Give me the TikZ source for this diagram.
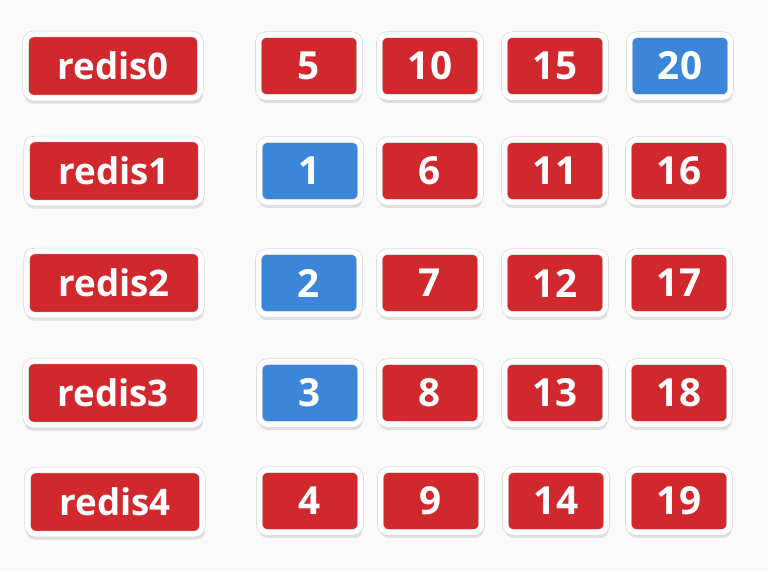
\documentclass[tikz,border=0pt]{standalone}
\usepackage{fontspec}
\setmainfont{Open Sans}
\usetikzlibrary{shadows}
\definecolor{boxred}{RGB}{208,40,45}
\definecolor{boxblue}{RGB}{60,134,218}
\definecolor{pagebg}{RGB}{250,250,250}
\begin{document}
\begin{tikzpicture}[x=0.75pt,y=-0.75pt,
  slot/.style={rectangle,rounded corners=6pt,draw=black!15,line width=0.5pt,double=white,double distance=3.8pt,
    drop shadow={opacity=0.22,shadow xshift=0.6pt,shadow yshift=-3.6pt,shadow scale=1.02},text=white,inner sep=0pt},
  server/.style={slot,fill=boxred,minimum width=131pt,minimum height=48pt,font=\bfseries\fontsize{27.5}{27.5}\selectfont},
  key/.style={slot,fill=boxred,minimum width=76pt,minimum height=47pt,font=\bfseries\fontsize{29}{29}\selectfont},
  moved/.style={key,fill=boxblue}]
\fill[pagebg] (0,0) rectangle (768,572);
\useasboundingbox (0,0) rectangle (768,572);
% servers
\node[server] (R0) at (113,66) {redis0};
\node[server] (R1) at (114,171) {redis1};
\node[server] (R2) at (114,283) {redis2};
\node[server] (R3) at (113,393) {redis3};
\node[server] (R4) at (115,502) {redis4};
% row 0
\node[key] (K5) at (309,66) {5};
\node[key] (K10) at (430,66) {10};
\node[key] (K15) at (555,66) {15};
\node[moved] (K20) at (680,66) {20};
% row 1
\node[moved] (K1) at (310,171) {1};
\node[key] (K6) at (430,171) {6};
\node[key] (K11) at (555,171) {11};
\node[key] (K16) at (679,171) {16};
% row 2
\node[moved] (K2) at (309,283) {2};
\node[key] (K7) at (430,283) {7};
\node[key] (K12) at (555,283) {12};
\node[key] (K17) at (679,283) {17};
% row 3
\node[moved] (K3) at (310,393) {3};
\node[key] (K8) at (430,393) {8};
\node[key] (K13) at (555,393) {13};
\node[key] (K18) at (679,393) {18};
% row 4
\node[key] (K4) at (310,501) {4};
\node[key] (K9) at (431,501) {9};
\node[key] (K14) at (556,501) {14};
\node[key] (K19) at (679,501) {19};
\end{tikzpicture}
\end{document}
